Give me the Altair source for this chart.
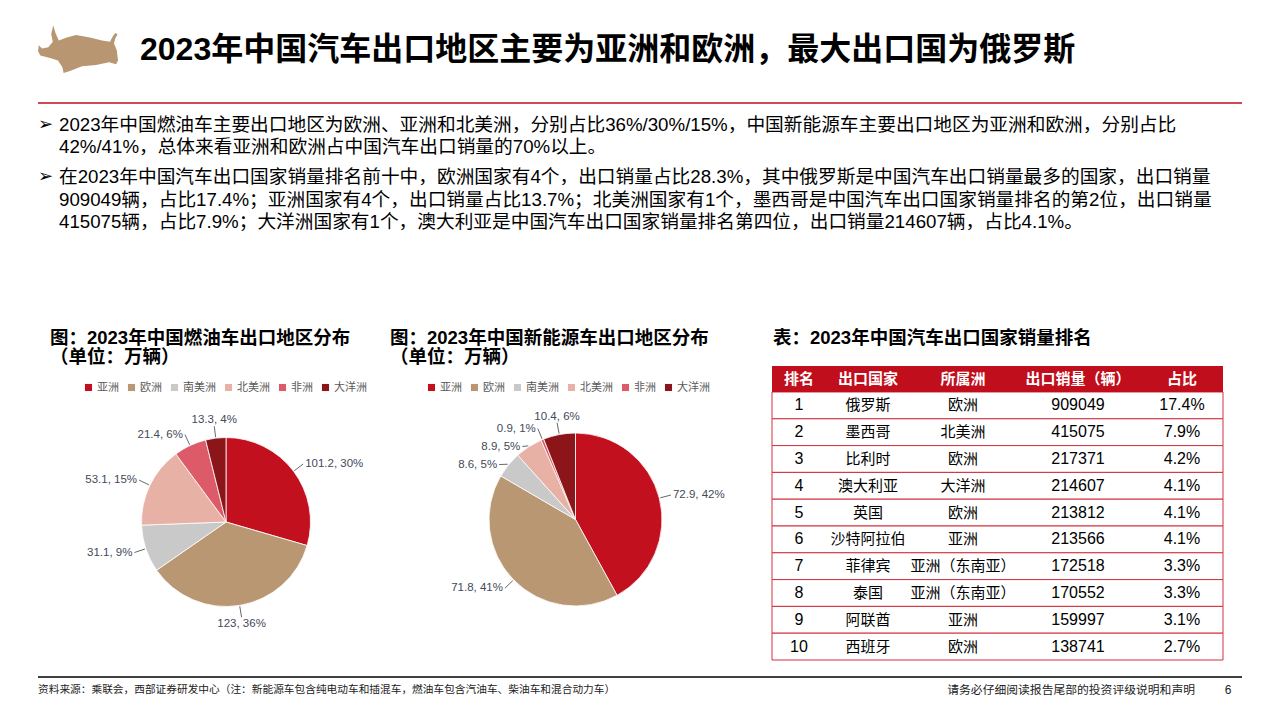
import altair as alt
import pandas as pd

# ---------------- data ----------------
regions = ["亚洲", "欧洲", "南美洲", "北美洲", "非洲", "大洋洲"]
region_colors = ["#C2101E", "#B99773", "#C9C9C9", "#E8B1A6", "#DD5A69", "#8B1518"]
fuel_values = [101.2, 123, 31.1, 53.1, 21.4, 13.3]
fuel_share = [30, 36, 9, 15, 6, 4]
nev_values = [72.9, 71.8, 8.6, 8.9, 0.9, 10.4]
nev_share = [42, 41, 5, 5, 1, 6]

ranks = list(range(1, 11))
countries = ["俄罗斯", "墨西哥", "比利时", "澳大利亚", "英国", "沙特阿拉伯", "菲律宾", "泰国", "阿联酋", "西班牙"]
continents = ["欧洲", "北美洲", "欧洲", "大洋洲", "欧洲", "亚洲", "亚洲（东南亚）", "亚洲（东南亚）", "亚洲", "欧洲"]
volumes = [909049, 415075, 217371, 214607, 213812, 213566, 172518, 170552, 159997, 138741]
shares = ["17.4%", "7.9%", "4.2%", "4.1%", "4.1%", "4.1%", "3.3%", "3.3%", "3.1%", "2.7%"]
header = ["排名", "出口国家", "所属洲", "出口销量（辆）", "占比"]

title = "2023年中国汽车出口地区主要为亚洲和欧洲，最大出口国为俄罗斯"
bullet1 = [
    "2023年中国燃油车主要出口地区为欧洲、亚洲和北美洲，分别占比36%/30%/15%，中国新能源车主要出口地区为亚洲和欧洲，分别占比",
    "42%/41%，总体来看亚洲和欧洲占中国汽车出口销量的70%以上。",
]
bullet2 = [
    "在2023年中国汽车出口国家销量排名前十中，欧洲国家有4个，出口销量占比28.3%，其中俄罗斯是中国汽车出口销量最多的国家，出口销量",
    "909049辆，占比17.4%；亚洲国家有4个，出口销量占比13.7%；北美洲国家有1个，墨西哥是中国汽车出口国家销量排名的第2位，出口销量",
    "415075辆，占比7.9%；大洋洲国家有1个，澳大利亚是中国汽车出口国家销量排名第四位，出口销量214607辆，占比4.1%。",
]
pie1_title = ["图：2023年中国燃油车出口地区分布", "（单位：万辆）"]
pie2_title = ["图：2023年中国新能源车出口地区分布", "（单位：万辆）"]
table_title = "表：2023年中国汽车出口国家销量排名"
footer_left = "资料来源：乘联会，西部证券研发中心（注：新能源车包含纯电动车和插混车，燃油车包含汽油车、柴油车和混合动力车）"
footer_right = "请务必仔细阅读报告尾部的投资评级说明和声明"
page_no = "6"

# ---------------- styles / layout ----------------
FONT = "Liberation Sans, Noto Sans CJK SC"
RED = "#C00E1C"
LABEL_COLOR = "#3F4A5A"
PIES = {1: dict(cx=218, cy=514, r=84.5), 2: dict(cx=567.5, cy=511.5, r=86.5)}

one = pd.DataFrame({"k": [0]})

pie_df = pd.DataFrame({
    "pie": [1] * 6 + [2] * 6,
    "region": regions * 2,
    "order": list(range(6)) * 2,
    "value": fuel_values + nev_values,
    "share": fuel_share + nev_share,
})
pie_df["label"] = [f"{v:g}, {s}%" for v, s in zip(pie_df["value"], pie_df["share"])]

tbl = pd.DataFrame({"rank": ranks, "country": countries, "continent": continents,
                    "volume": [str(v) for v in volumes], "share": shares})


def txt(text, x, y, size, weight="normal", align="left", baseline="middle", color="#000000", font=FONT):
    return alt.Chart(one).mark_text(text=text, align=align, baseline=baseline, fontSize=size,
                                    fontWeight=weight, color=color, font=font).encode(
        x=alt.value(x), y=alt.value(y))


layers = []

# logo (decorative bull silhouette, facing left)
_pts = [(-0.62, -0.78), (-0.56, -0.55), (-0.48, -0.34), (-0.3, -0.42), (-0.05, -0.5), (0.3, -0.43),
        (0.6, -0.34), (0.8, -0.3), (0.86, -0.44), (0.93, -0.56), (0.99, -0.52), (0.93, -0.4),
        (0.9, -0.25), (0.97, -0.05), (1.0, 0.25), (0.95, 0.36), (0.78, 0.3), (0.45, 0.38),
        (0.1, 0.42), (-0.2, 0.56), (-0.36, 0.62), (-0.39, 0.45), (-0.5, 0.25), (-0.7, 0.18),
        (-0.94, 0.1), (-1.0, -0.02), (-0.98, -0.2), (-0.9, -0.1), (-0.74, -0.14), (-0.63, -0.3),
        (-0.67, -0.52)]
bull = "M" + " L".join(f"{x:.3f},{y * 0.85:.3f}" for x, y in _pts) + " Z"
layers.append(alt.Chart(one).mark_point(shape=bull, filled=True, size=6400, color="#B89672",
                                         opacity=1, strokeWidth=0).encode(x=alt.value(70), y=alt.value(44)))

# title and rules
layers.append(txt(title, 132, 42, 32, weight="bold"))
layers.append(alt.Chart(one).mark_rule(color=RED, strokeWidth=1.5).encode(
    x=alt.value(30), x2=alt.value(1234), y=alt.value(95)))
layers.append(alt.Chart(one).mark_rule(color="#000000", strokeWidth=1.5).encode(
    x=alt.value(30), x2=alt.value(1234), y=alt.value(669)))

# bullets
for lines, ys in [(bullet1, [117, 139]), (bullet2, [169, 191.5, 214])]:
    layers.append(txt("➢", 30, ys[0], 18, font="DejaVu Sans"))
    for line, y in zip(lines, ys):
        layers.append(txt(line, 51, y, 18.7))

# section titles
TS = 18.5
layers.append(txt(pie1_title[0], 42, 330, TS, weight="bold"))
layers.append(txt(pie1_title[1], 42, 349, TS, weight="bold"))
layers.append(txt(pie2_title[0], 382, 330, TS, weight="bold"))
layers.append(txt(pie2_title[1], 382, 349, TS, weight="bold"))
layers.append(txt(table_title, 765, 330, TS, weight="bold"))

# pies
for p, lx in [(1, 75), (2, 418)]:
    g = PIES[p]
    layers.append(
        alt.Chart(pie_df).transform_filter(f"datum.pie == {p}")
        .mark_arc(radius=g["r"], stroke="white", strokeWidth=0.8)
        .encode(
            theta=alt.Theta("value:Q", stack=True),
            order=alt.Order("order:Q"),
            color=alt.Color("region:N", scale=alt.Scale(domain=regions, range=region_colors),
                            legend=alt.Legend(orient="none", legendX=lx, legendY=374, direction="horizontal",
                                              columns=6, gridAlign="none", title=None, symbolType="square",
                                              symbolSize=50, symbolStrokeWidth=0, labelFont=FONT,
                                              labelFontSize=11, labelColor="#595959", columnPadding=7,
                                              labelOffset=3, padding=0)),
            x=alt.value(g["cx"]), y=alt.value(g["cy"]),
        )
    )

# pie labels with leader lines
cx_expr = f"datum.pie == 1 ? {PIES[1]['cx']} : {PIES[2]['cx']}"
cy_expr = f"datum.pie == 1 ? {PIES[1]['cy']} : {PIES[2]['cy']}"
r_expr = f"datum.pie == 1 ? {PIES[1]['r']} : {PIES[2]['r']}"
lab_base = (
    alt.Chart(pie_df)
    .transform_joinaggregate(total="sum(value)", groupby=["pie"])
    .transform_window(cum="sum(value)", sort=[alt.SortField("order")], groupby=["pie"], frame=[None, 0])
    .transform_calculate(mid="2*PI*(datum.cum - datum.value/2)/datum.total")
    .transform_calculate(cx=cx_expr)
    .transform_calculate(cy=cy_expr)
    .transform_calculate(r=r_expr)
    .transform_calculate(ex="datum.cx + (datum.r+1)*sin(datum.mid)")
    .transform_calculate(ey="datum.cy - (datum.r+1)*cos(datum.mid)")
    .transform_calculate(lx="datum.cx + (datum.r+12)*sin(datum.mid)")
    .transform_calculate(ly0="datum.cy - (datum.r+12)*cos(datum.mid)")
    .transform_calculate(side="sin(datum.mid) > 0.3 ? 'R' : (sin(datum.mid) < -0.3 ? 'L' : (cos(datum.mid) > 0 ? 'T' : 'B'))")
    .transform_window(i="row_number()", sort=[alt.SortField("ly0")], groupby=["pie", "side"])
    .transform_calculate(a="datum.ly0 - 18*datum.i")
    .transform_window(m="max(a)", sort=[alt.SortField("ly0")], groupby=["pie", "side"], frame=[None, 0])
    .transform_calculate(ly="datum.m + 18*datum.i")
)
layers.append(lab_base.mark_rule(color="#404040", strokeWidth=0.8).encode(
    x=alt.X("ex:Q", scale=None, axis=None), y=alt.Y("ey:Q", scale=None, axis=None),
    x2="lx:Q", y2="ly:Q"))
for side, align, baseline, dx, dy in [("L", "right", "middle", -2, 0), ("R", "left", "middle", 2, 0),
                                      ("T", "center", "bottom", 0, -1), ("B", "center", "top", 0, 1)]:
    layers.append(
        lab_base.transform_filter(f"datum.side == '{side}'")
        .mark_text(align=align, baseline=baseline, dx=dx, dy=dy, font=FONT, fontSize=11.5, color=LABEL_COLOR)
        .encode(x=alt.X("lx:Q", scale=None, axis=None), y=alt.Y("ly:Q", scale=None, axis=None), text="label:N")
    )

# table
TX0, TX1 = 764, 1215
row_band = alt.Y("rank:O", scale=alt.Scale(type="band", domain=ranks, range=[384, 652],
                                           paddingInner=0, paddingOuter=0), axis=None)
row_point = alt.Y("rank:O", scale=alt.Scale(type="point", domain=ranks, range=[384, 652], padding=0.5),
                  axis=None)
layers.append(alt.Chart(tbl).mark_rect(fill="white", stroke="#D0303C", strokeWidth=1).encode(
    y=row_band, x=alt.value(TX0), x2=alt.value(TX1)))
layers.append(alt.Chart(one).mark_rect(fill=RED).encode(
    x=alt.value(TX0), x2=alt.value(TX1), y=alt.value(358), y2=alt.value(384)))
col_x = [791, 860, 955, 1070, 1174]
for h, x in zip(header, col_x):
    layers.append(txt(h, x, 371, 15, weight="bold", align="center", color="white"))
for field, x, size in [("rank", 791, 16), ("country", 860, 15), ("continent", 955, 15),
                       ("volume", 1070, 16), ("share", 1174, 16)]:
    layers.append(alt.Chart(tbl).mark_text(align="center", baseline="middle", font=FONT, fontSize=size,
                                           color="#000000").encode(
        y=row_point, x=alt.value(x), text=f"{field}:N"))

# footer
layers.append(txt(footer_left, 30, 682, 10.7, color="#222222"))
layers.append(txt(footer_right, 1187, 682, 11.8, align="right", color="#222222"))
layers.append(txt(page_no, 1220, 682, 12, align="center", color="#222222"))

chart = (
    alt.layer(*layers)
    .resolve_scale(x="independent", y="independent", theta="independent", color="independent")
    .properties(width=1264, height=704, padding=0, autosize="none", background="white")
    .configure_view(stroke=None)
)
chart.save("out.html", embed_options={"renderer": "svg", "actions": False})
